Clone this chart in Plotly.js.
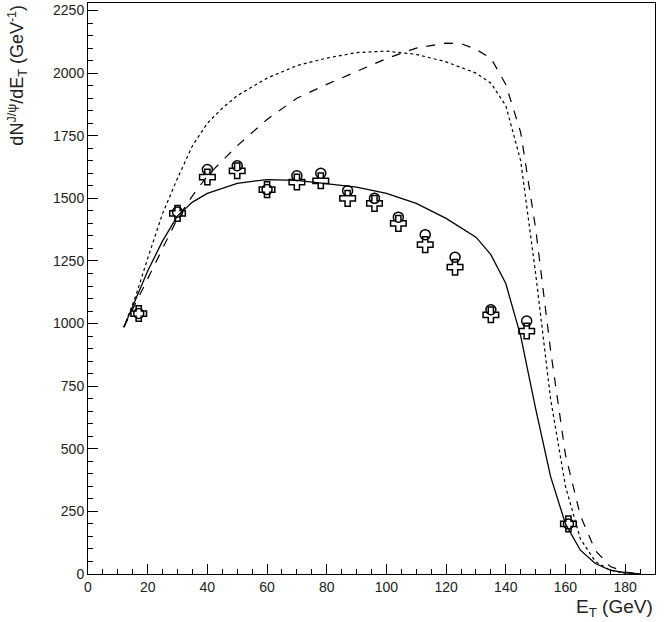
<!DOCTYPE html>
<html><head><script src="https://cdn.plot.ly/plotly-3.0.1.min.js"></script></head>
<body style="margin:0"><div id="plot" style="width:672px;height:622px"></div>
<script>
// theory curves
var solidX = [12,16,20,25,30,35,40,50,60,70,80,90,100,110,120,130,135,140,145,150,155,160,165,170,175,180,185];
var solidY = [985,1100,1210,1330,1430,1485,1520,1560,1575,1572,1560,1545,1520,1480,1420,1345,1275,1160,950,660,390,200,95,42,15,5,0];
var dashX = [12,16,20,25,30,35,40,50,60,70,80,90,100,110,120,125,130,135,140,145,150,155,160,165,170,175,180,185];
var dashY = [985,1080,1180,1300,1420,1510,1590,1710,1815,1900,1955,2006,2058,2100,2120,2118,2095,2060,1955,1763,1380,894,476,233,94,30,8,0];
var dotX = [12,16,20,25,30,35,40,45,50,60,70,80,90,100,110,120,130,135,140,145,150,155,160,165,170,175,180];
var dotY = [985,1110,1260,1440,1580,1710,1800,1860,1910,1980,2030,2060,2082,2088,2075,2045,2000,1960,1870,1650,1200,700,350,140,50,15,3];
// data points
var ptX = [17,30,40,50,60,70,78,87,96,104,113,123,135,147,161];
var circY = [1040,1445,1615,1630,1535,1590,1600,1530,1500,1425,1355,1265,1055,1010,200];
var crossY = [1040,1440,1585,1610,1535,1565,1570,1500,1480,1400,1315,1225,1035,970,200];

var data = [
  {x:solidX, y:solidY, mode:'lines', line:{color:'black', width:1.3}},
  {x:dashX, y:dashY, mode:'lines', line:{color:'black', width:1.2, dash:'dash'}},
  {x:dotX, y:dotY, mode:'lines', line:{color:'black', width:1.2, dash:'dot'}},
  {x:ptX, y:circY, mode:'markers', marker:{symbol:'circle-open', size:10, color:'black', line:{width:1.5}}},
  {x:ptX, y:crossY, mode:'markers', marker:{symbol:'cross-open', size:13, color:'black', line:{width:1.5}}}
];
var ax = {showline:true, mirror:true, linecolor:'black', linewidth:1, showgrid:false, zeroline:false,
  ticks:'inside', ticklen:10, tickcolor:'black', tickfont:{family:'Liberation Sans, Arial', size:14, color:'#222'}};
var layout = {
  width:672, height:622, showlegend:false, plot_bgcolor:'white', paper_bgcolor:'white',
  margin:{l:88, r:17, t:3, b:48},
  xaxis:Object.assign({}, ax, {range:[0,190], dtick:20, minor:{dtick:5, ticks:'inside', ticklen:5, tickcolor:'black'}}),
  yaxis:Object.assign({}, ax, {range:[0,2280], dtick:250, minor:{dtick:50, ticks:'inside', ticklen:5, tickcolor:'black'}}),
  annotations:[
    {text:'E<sub>T</sub> (GeV)', xref:'paper', yref:'paper', x:1, y:-0.035, xanchor:'right', yanchor:'top', showarrow:false,
     font:{family:'Liberation Sans, Arial', size:19, color:'#222'}},
    {text:'dN<sup>J/ψ</sup>/dE<sub>T</sub> (GeV<sup>-1</sup>)', xref:'paper', yref:'paper', x:-0.125, y:1, xanchor:'center', yanchor:'top',
     textangle:-90, showarrow:false, font:{family:'Liberation Sans, Arial', size:18, color:'#222'}}
  ]
};
Plotly.newPlot('plot', data, layout, {displayModeBar:false});
</script></body></html>
